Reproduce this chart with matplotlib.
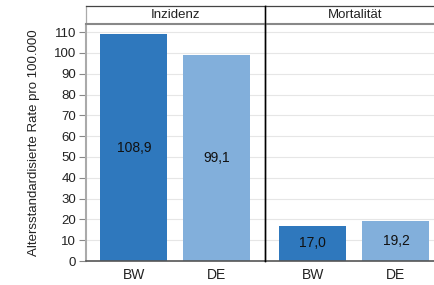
import numpy as np
import matplotlib.pyplot as plt

plt.rcParams['font.family'] = ['Liberation Sans', 'DejaVu Sans']

panels = ["Inzidenz", "Mortalität"]
regions = ["BW", "DE"]
werte = {"Inzidenz": [108.9, 99.1], "Mortalität": [17.0, 19.2]}
farben = ["#2f78bd", "#82afdb"]
yticks = list(range(0, 111, 10))

W, H = 435, 285
fig = plt.figure(figsize=(W/100, H/100), dpi=100)

def fx(px):
    return px / W

def fy(py):
    return 1 - py / H

top, bot = 25, 261
panel_x = [86, 265]
panel_w = 180

for i, name in enumerate(panels):
    x0 = panel_x[i]
    ax = fig.add_axes([fx(x0), fy(bot), fx(panel_w), (bot - top) / H])
    vals = werte[name]
    xs = np.arange(len(regions))
    ax.bar(xs, vals, width=0.807, color=farben, zorder=2)
    for x, v in zip(xs, vals):
        ax.text(x, v / 2, f"{v:.1f}".replace(".", ","), ha="center", va="center",
                fontsize=10, color="#111111", zorder=3)
    ax.set_xlim(-0.575, 1.59)
    ax.set_ylim(0, 113.4)
    ax.set_yticks(yticks)
    ax.yaxis.grid(True, color="#e6e6e6", linewidth=0.8, zorder=0)
    ax.set_axisbelow(True)
    ax.set_xticks(xs)
    ax.set_xticklabels(regions, fontsize=10, color="#222222")
    ax.tick_params(axis="x", length=0, pad=5)
    for s in ["top", "right"]:
        ax.spines[s].set_visible(False)
    ax.spines["bottom"].set_color("#555555")
    ax.spines["bottom"].set_linewidth(1.2)
    if i == 0:
        ax.spines["left"].set_color("#aaaaaa")
        ax.spines["left"].set_linewidth(1.5)
        ax.tick_params(axis="y", length=5, color="#888888", labelsize=9.5,
                       labelcolor="#222222", pad=2)
        ax.set_ylabel("Altersstandardisierte Rate pro 100.000", fontsize=9.5,
                      color="#222222", labelpad=10)
    else:
        ax.spines["left"].set_color("black")
        ax.spines["left"].set_linewidth(1.0)
        ax.tick_params(axis="y", length=0, labelleft=False)

    # Kopfzeile
    st = fig.add_axes([fx(x0), fy(24), fx(panel_w), 18 / H])
    st.set_xticks([])
    st.set_yticks([])
    st.set_facecolor("white")
    for s in st.spines.values():
        s.set_color("#444444")
        s.set_linewidth(0.9)
    st.spines["bottom"].set_color("#888888")
    st.spines["bottom"].set_linewidth(1.5)
    if i == 0:
        st.spines["left"].set_color("#aaaaaa")
        st.spines["right"].set_visible(False)
    else:
        st.spines["left"].set_color("black")
    st.text(0.5, 0.5, name, ha="center", va="center", fontsize=9.5,
            color="#222222", transform=st.transAxes)

# Trennlinie durch die Kopfzeile
fig.add_artist(plt.Line2D([fx(265), fx(265)], [fy(261), fy(6)], color="black",
                          linewidth=1.0))

fig.savefig("out.png", dpi=100)
